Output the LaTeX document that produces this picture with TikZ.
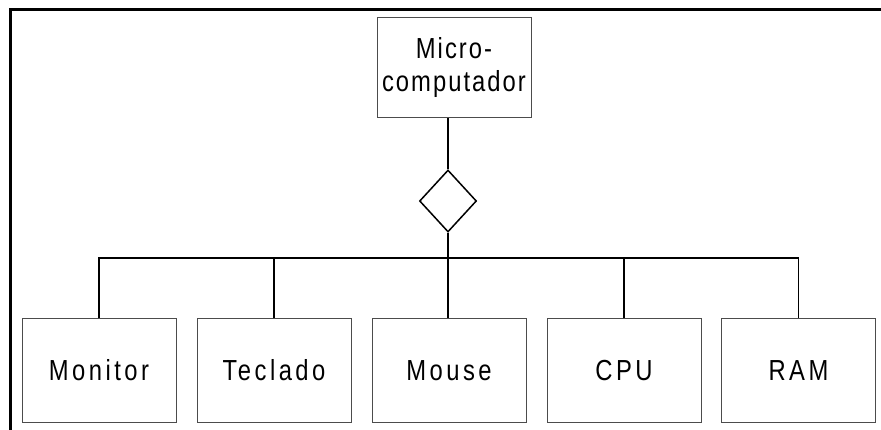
\documentclass[tikz,border=0pt]{standalone}
\usepackage{fontspec}
\setmainfont{Liberation Sans}[FakeStretch=0.82, LetterSpace=12]
\usetikzlibrary{shapes.geometric}
\begin{document}
\begin{tikzpicture}[x=1pt, y=-1pt,
  part/.style={draw=black!70, line width=1pt, rectangle, inner sep=0pt,
    minimum width=154pt, minimum height=103pt, align=center,
    font=\fontsize{29}{33}\selectfont},
  whole/.style={part, minimum height=100pt,
    font=\fontsize{29}{33}\selectfont\addfontfeature{LetterSpace=7}},
  agg/.style={draw=black, line width=1.5pt, diamond, inner sep=0pt,
    minimum width=57pt, minimum height=62pt},
  link/.style={draw=black, line width=1.5pt},
  frame/.style={draw=black, line width=3pt}]
  \useasboundingbox (0,0) rectangle (881,430);
  % open frame along the top and left edges
  \draw[frame] (10,430) -- (10,10) -- (881,10);

  % aggregate and its parts
  \node[whole] (micro) at (454,68) {Micro-\\computador};
  \node[agg] (dia) at (448,201) {};
  \coordinate (bus) at (448,258);

  \node[part] (monitor) at (99,370.5)  {Monitor};
  \node[part] (teclado) at (274,370.5) {Teclado};
  \node[part] (mouse)   at (449,370.5) {Mouse};
  \node[part] (cpu)     at (624,370.5) {CPU};
  \node[part] (ram)     at (798.5,370.5) {RAM};

  % connectors
  \draw[link] (dia.north |- micro.south) -- (dia.north);
  \draw[link] (dia.south) -- (dia.south |- mouse.north);
  \draw[link] (monitor.north) |- (bus) -| (ram.north);
  \draw[link] (teclado.north) -- (teclado.north |- bus);
  \draw[link] (cpu.north) -- (cpu.north |- bus);
\end{tikzpicture}
\end{document}
